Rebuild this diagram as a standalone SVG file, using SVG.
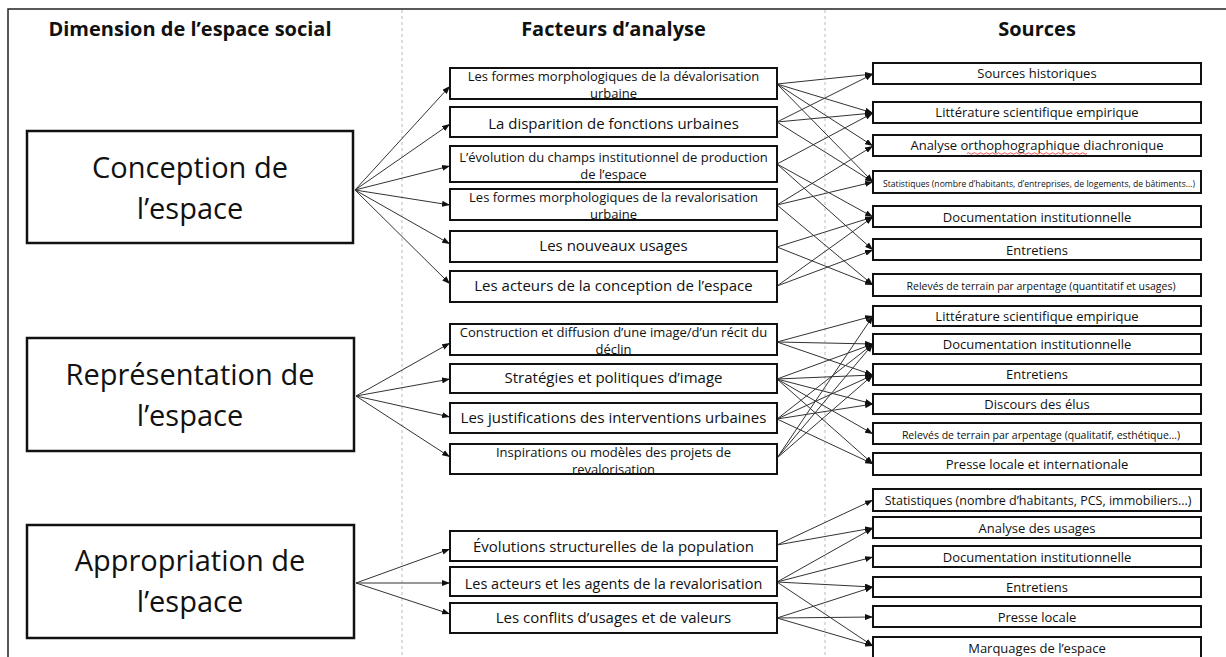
<svg xmlns="http://www.w3.org/2000/svg" width="1226" height="657" viewBox="0 0 1226 657">
<defs>
<marker id="ah" markerUnits="userSpaceOnUse" markerWidth="8" markerHeight="6" refX="8" refY="3" orient="auto">
<path d="M0,0 L8,3 L0,6 z" fill="#111"/>
</marker>
<style>
text{font-family:'Open Sans','Noto Sans','DejaVu Sans',sans-serif;fill:#111;text-anchor:middle}
.hdr{font-size:20px;font-weight:bold}
.ltxt{font-size:29px}
.m1{font-size:15px}
.m2{font-size:13px}
.r{font-size:13px}
.frame{fill:none;stroke:#222;stroke-width:1.5}
.sep{stroke:#bbb;stroke-width:1;stroke-dasharray:3 3}
.lbox{fill:#fff;stroke:#111;stroke-width:2.5}
.mbox{fill:#fff;stroke:#111;stroke-width:2}
.rbox{fill:#fff;stroke:#111;stroke-width:2}
.conn line{stroke:#333;stroke-width:1;marker-end:url(#ah)}
</style>
</defs>
<rect width="1226" height="657" fill="#fff"/>
<path class="frame" d="M8,657 L8,9 L1226,9"/>
<line class="sep" x1="402" y1="10" x2="402" y2="657"/>
<line class="sep" x1="825" y1="10" x2="825" y2="657"/>

<g id="headers">
<text class="hdr" x="190" y="36">Dimension de l’espace social</text>
<text class="hdr" x="613.5" y="36">Facteurs d’analyse</text>
<text class="hdr" x="1037" y="36">Sources</text>
</g>

<g id="connectors" class="conn">
<line x1="355" y1="190" x2="450" y2="86"/>
<line x1="355" y1="190" x2="450" y2="124"/>
<line x1="355" y1="190" x2="450" y2="166"/>
<line x1="355" y1="190" x2="450" y2="205"/>
<line x1="355" y1="190" x2="450" y2="244"/>
<line x1="355" y1="190" x2="450" y2="284"/>
<line x1="356" y1="396" x2="450" y2="343"/>
<line x1="356" y1="396" x2="450" y2="379"/>
<line x1="356" y1="396" x2="450" y2="417"/>
<line x1="356" y1="396" x2="450" y2="457"/>
<line x1="356" y1="583" x2="450" y2="549"/>
<line x1="356" y1="583" x2="450" y2="583"/>
<line x1="356" y1="583" x2="450" y2="614"/>

<line x1="777" y1="84" x2="873" y2="74"/>
<line x1="777" y1="84" x2="873" y2="113"/>
<line x1="777" y1="84" x2="873" y2="146"/>
<line x1="777" y1="84" x2="873" y2="182"/>
<line x1="777" y1="122" x2="873" y2="74"/>
<line x1="777" y1="122" x2="873" y2="113"/>
<line x1="777" y1="122" x2="873" y2="182"/>
<line x1="777" y1="164" x2="873" y2="113"/>
<line x1="777" y1="164" x2="873" y2="217"/>
<line x1="777" y1="164" x2="873" y2="250"/>
<line x1="777" y1="205" x2="873" y2="146"/>
<line x1="777" y1="205" x2="873" y2="182"/>
<line x1="777" y1="205" x2="873" y2="285"/>
<line x1="777" y1="247" x2="873" y2="217"/>
<line x1="777" y1="247" x2="873" y2="285"/>
<line x1="777" y1="286" x2="873" y2="217"/>
<line x1="777" y1="286" x2="873" y2="250"/>

<line x1="777" y1="342" x2="873" y2="316"/>
<line x1="777" y1="342" x2="873" y2="344"/>
<line x1="777" y1="342" x2="873" y2="375"/>
<line x1="777" y1="379" x2="873" y2="344"/>
<line x1="777" y1="379" x2="873" y2="375"/>
<line x1="777" y1="379" x2="873" y2="404"/>
<line x1="777" y1="379" x2="873" y2="434"/>
<line x1="777" y1="379" x2="873" y2="464"/>
<line x1="777" y1="419" x2="873" y2="344"/>
<line x1="777" y1="419" x2="873" y2="375"/>
<line x1="777" y1="419" x2="873" y2="404"/>
<line x1="777" y1="419" x2="873" y2="464"/>
<line x1="777" y1="458" x2="873" y2="316"/>
<line x1="777" y1="458" x2="873" y2="344"/>
<line x1="777" y1="458" x2="873" y2="375"/>

<line x1="777" y1="545" x2="873" y2="500"/>
<line x1="777" y1="545" x2="873" y2="528"/>
<line x1="777" y1="582" x2="873" y2="528"/>
<line x1="777" y1="582" x2="873" y2="557"/>
<line x1="777" y1="582" x2="873" y2="587"/>
<line x1="777" y1="582" x2="873" y2="646"/>
<line x1="777" y1="618" x2="873" y2="587"/>
<line x1="777" y1="618" x2="873" y2="617"/>
<line x1="777" y1="618" x2="873" y2="646"/>
</g>

<g id="dim-conception"><rect class="lbox" x="27" y="131" width="326" height="112"/><text class="ltxt" x="190" y="178">Conception de</text><text class="ltxt" x="190" y="219">l’espace</text></g>
<g id="dim-representation"><rect class="lbox" x="27" y="338" width="327" height="113"/><text class="ltxt" x="190" y="385">Représentation de</text><text class="ltxt" x="190" y="426">l’espace</text></g>
<g id="dim-appropriation"><rect class="lbox" x="27" y="525" width="327" height="113"/><text class="ltxt" x="190" y="571">Appropriation de</text><text class="ltxt" x="190" y="612">l’espace</text></g>

<g id="f1"><rect class="mbox" x="450" y="68" width="327" height="31"/><text class="m2" x="613.5" y="81">Les formes morphologiques de la dévalorisation</text><text class="m2" x="613.5" y="97.5">urbaine</text></g>
<g id="f2"><rect class="mbox" x="450" y="107" width="327" height="30"/><text class="m1" x="613.5" y="128.5">La disparition de fonctions urbaines</text></g>
<g id="f3"><rect class="mbox" x="450" y="146" width="327" height="36"/><text class="m2" x="613.5" y="162">L’évolution du champs institutionnel de production</text><text class="m2" x="613.5" y="179">de l’espace</text></g>
<g id="f4"><rect class="mbox" x="450" y="189" width="327" height="31"/><text class="m2" x="613.5" y="202">Les formes morphologiques de la revalorisation</text><text class="m2" x="613.5" y="218.5">urbaine</text></g>
<g id="f5"><rect class="mbox" x="450" y="231" width="327" height="31"/><text class="m1" x="613.5" y="251">Les nouveaux usages</text></g>
<g id="f6"><rect class="mbox" x="450" y="271" width="327" height="31"/><text class="m1" x="613.5" y="291">Les acteurs de la conception de l’espace</text></g>
<g id="f7"><rect class="mbox" x="450" y="324" width="327" height="31"/><text class="m2" x="613.5" y="337">Construction et diffusion d’une image/d’un récit du</text><text class="m2" x="613.5" y="354">déclin</text></g>
<g id="f8"><rect class="mbox" x="450" y="364" width="327" height="29"/><text class="m1" x="613.5" y="383">Stratégies et politiques d’image</text></g>
<g id="f9"><rect class="mbox" x="450" y="403" width="327" height="30"/><text class="m1" x="613.5" y="423">Les justifications des interventions urbaines</text></g>
<g id="f10"><rect class="mbox" x="450" y="444" width="327" height="30"/><text class="m2" x="613.5" y="457">Inspirations ou modèles des projets de</text><text class="m2" x="613.5" y="473.5">revalorisation</text></g>
<g id="f11"><rect class="mbox" x="450" y="531" width="327" height="30"/><text class="m1" x="613.5" y="552">Évolutions structurelles de la population</text></g>
<g id="f12"><rect class="mbox" x="450" y="567" width="327" height="29"/><text class="m1" x="613.5" y="589" style="font-size:14.5px">Les acteurs et les agents de la revalorisation</text></g>
<g id="f13"><rect class="mbox" x="450" y="603" width="327" height="30"/><text class="m1" x="613.5" y="623">Les conflits d’usages et de valeurs</text></g>

<g id="s1"><rect class="rbox" x="873" y="63" width="328" height="21"/><text class="r" x="1037" y="78">Sources historiques</text></g>
<g id="s2"><rect class="rbox" x="873" y="102" width="328" height="21"/><text class="r" x="1037" y="117">Littérature scientifique empirique</text></g>
<g id="s3"><rect class="rbox" x="873" y="135" width="328" height="21"/><text class="r" x="1037" y="150">Analyse orthophographique diachronique</text><path d="M967,153.5 q1.5,-1.5 3,0 t3,0 t3,0 t3,0 t3,0 t3,0 t3,0 t3,0 t3,0 t3,0 t3,0 t3,0 t3,0 t3,0 t3,0 t3,0 t3,0 t3,0 t3,0 t3,0 t3,0 t3,0 t3,0 t3,0 t3,0 t3,0 t3,0 t3,0 t3,0 t3,0 t3,0 t3,0 t3,0 t3,0 t3,0 t3,0 t3,0 t3,0 t3,0 t3,0" fill="none" stroke="#e03030" stroke-width="0.8"/></g>
<g id="s4"><rect class="rbox" x="873" y="171" width="328" height="22"/><text class="r" x="1039" y="186.5" style="font-size:8.6px">Statistiques (nombre d’habitants, d’entreprises, de logements, de bâtiments…)</text></g>
<g id="s5"><rect class="rbox" x="873" y="206" width="328" height="21"/><text class="r" x="1037" y="221.5">Documentation institutionnelle</text></g>
<g id="s6"><rect class="rbox" x="873" y="239" width="328" height="21"/><text class="r" x="1037" y="254.5">Entretiens</text></g>
<g id="s7"><rect class="rbox" x="873" y="274" width="328" height="22"/><text class="r" x="1041" y="290" style="font-size:10.5px">Relevés de terrain par arpentage (quantitatif et usages)</text></g>
<g id="s8"><rect class="rbox" x="873" y="306" width="328" height="20"/><text class="r" x="1037" y="320.5">Littérature scientifique empirique</text></g>
<g id="s9"><rect class="rbox" x="873" y="334" width="328" height="20"/><text class="r" x="1037" y="348.5">Documentation institutionnelle</text></g>
<g id="s10"><rect class="rbox" x="873" y="364" width="328" height="21"/><text class="r" x="1037" y="379">Entretiens</text></g>
<g id="s11"><rect class="rbox" x="873" y="394" width="328" height="20"/><text class="r" x="1037" y="408.5">Discours des élus</text></g>
<g id="s12"><rect class="rbox" x="873" y="423" width="328" height="21"/><text class="r" x="1041" y="438.5" style="font-size:10.5px">Relevés de terrain par arpentage (qualitatif, esthétique…)</text></g>
<g id="s13"><rect class="rbox" x="873" y="453" width="328" height="22"/><text class="r" x="1037" y="469">Presse locale et internationale</text></g>
<g id="s14"><rect class="rbox" x="873" y="489" width="328" height="22"/><text class="r" x="1038" y="505" style="font-size:12.5px">Statistiques (nombre d’habitants, PCS, immobiliers…)</text></g>
<g id="s15"><rect class="rbox" x="873" y="517" width="328" height="21"/><text class="r" x="1037" y="532.5">Analyse des usages</text></g>
<g id="s16"><rect class="rbox" x="873" y="546" width="328" height="21"/><text class="r" x="1037" y="561.5">Documentation institutionnelle</text></g>
<g id="s17"><rect class="rbox" x="873" y="577" width="328" height="20"/><text class="r" x="1037" y="592">Entretiens</text></g>
<g id="s18"><rect class="rbox" x="873" y="606" width="328" height="21"/><text class="r" x="1037" y="621.5">Presse locale</text></g>
<g id="s19"><rect class="rbox" x="873" y="637" width="328" height="24"/><text class="r" x="1037" y="653">Marquages de l’espace</text></g>
</svg>
